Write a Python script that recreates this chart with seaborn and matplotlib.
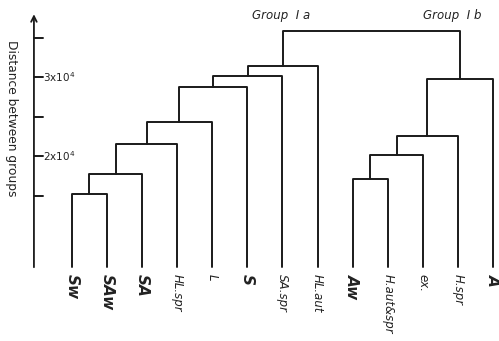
import matplotlib
matplotlib.use('Agg')
import matplotlib.pyplot as plt
import pandas as pd
import seaborn as sns

# leaves, left to right
leaves = ['Sw', 'SAw', 'SA', 'HL.spr', 'L', 'S', 'SA.spr', 'HL.aut',
          'Aw', 'H.aut&spr', 'ex.', 'H.spr', 'A']
big_leaves = ['Sw', 'SAw', 'SA', 'S', 'Aw', 'A']

# merges: (cluster a, cluster b, height in 1e4); new clusters numbered from 13
merge_a = [0, 13, 14, 15, 16, 17, 18, 8, 20, 21, 22, 19]
merge_b = [1, 2, 3, 4, 5, 6, 7, 9, 10, 11, 12, 23]
merge_h = [1.52, 1.77, 2.15, 2.43, 2.87, 3.01, 3.14, 1.71, 2.01, 2.25, 2.97, 3.58]

base = 0.6
tick_vals = [1.5, 2.0, 2.5, 3.0, 3.5]
tick_labels = ['', '2x10$^4$', '', '3x10$^4$', '']

# build segments of the dendrogram
pos = {i: (float(i), base) for i in range(len(leaves))}
rows = []
seg = 0
for k, (a, b, h) in enumerate(zip(merge_a, merge_b, merge_h)):
    xa, ya = pos[a]
    xb, yb = pos[b]
    for x, y in [(xa, ya), (xa, h), (xb, h), (xb, yb)]:
        rows.append({'seg': seg, 'x': x, 'y': y})
    seg += 1
    pos[len(leaves) + k] = ((xa + xb) / 2, h)
segs = pd.DataFrame(rows)

sns.set_theme(style='white')
plt.rcParams['font.family'] = ['DejaVu Sans']

fig = plt.figure(figsize=(4.99, 3.41), dpi=100)
ax = fig.add_axes([0, 0, 1, 1])
sns.lineplot(data=segs, x='x', y='y', units='seg', estimator=None, sort=False,
             color='#1a1a1a', linewidth=1.4, ax=ax, legend=False)

ax.set_xlim(-2.05, 12.17)
ax.set_ylim(-0.342, 3.975)
ax.axis('off')

# hand-drawn style axis with arrow
x_axis = -1.083
ax.annotate('', xy=(x_axis, 3.83), xytext=(x_axis, 0.557),
            arrowprops=dict(arrowstyle='->', color='#1a1a1a', lw=1.3, mutation_scale=10))
for v, lab in zip(tick_vals, tick_labels):
    ax.plot([x_axis, x_axis + 0.26], [v, v], color='#1a1a1a', lw=1.4)
    if lab:
        ax.text(x_axis + 0.27, v, lab, fontsize=7.5, va='center', ha='left', color='#222222')

ax.text(-1.72, 2.48, 'Distance between groups', rotation=270, fontsize=8.8,
        va='center', ha='center', color='#222222')

for i, name in enumerate(leaves):
    big = name in big_leaves
    ax.text(i, 0.505, name, rotation=270, va='top', ha='center', style='italic',
            fontsize=11 if big else 8.5, fontweight='bold' if big else 'normal',
            color='#222222')

ax.text(5.96, 3.785, 'Group  I a', style='italic', fontsize=8.5, ha='center', va='center', color='#222222')
ax.text(10.83, 3.785, 'Group  I b', style='italic', fontsize=8.5, ha='center', va='center', color='#222222')

fig.savefig('out.png', dpi=100)
